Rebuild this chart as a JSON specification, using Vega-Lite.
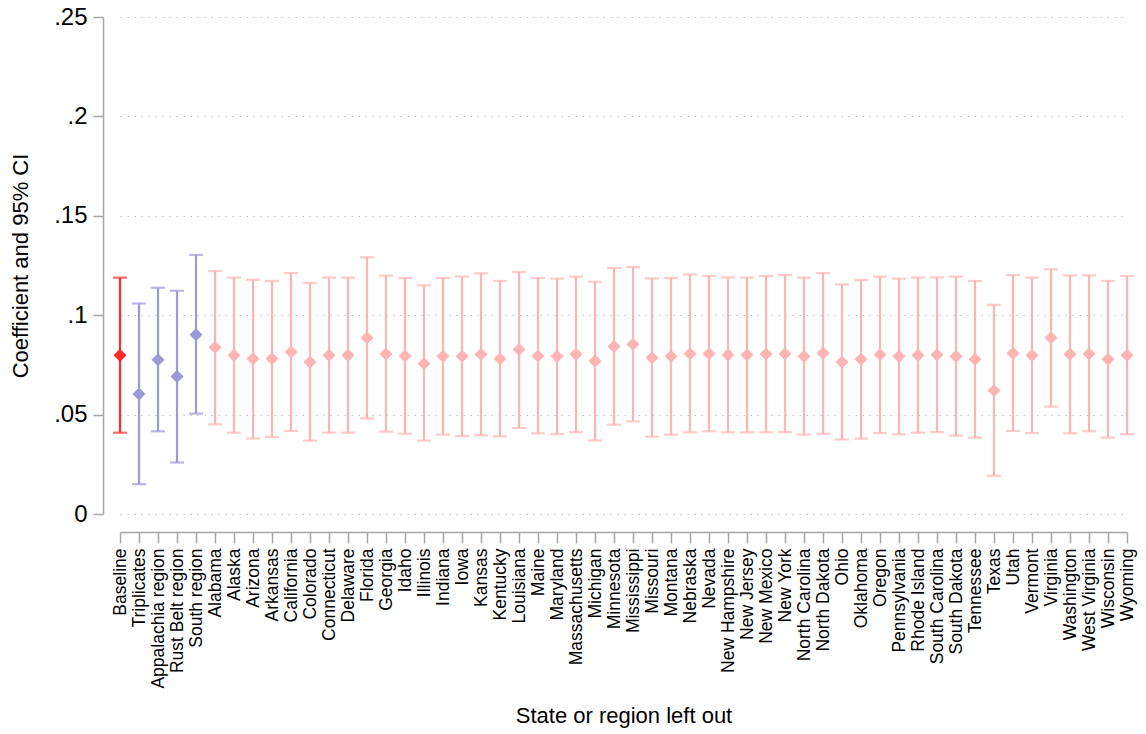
{
  "$schema": "https://vega.github.io/schema/vega-lite/v6.json",
  "width": 1007,
  "height": 497,
  "autosize": "none",
  "padding": {"left": 120, "top": 17, "right": 19, "bottom": 220},
  "background": "white",
  "config": {
    "font": "Liberation Sans",
    "view": {"stroke": null},
    "axis": {"labelFont": "Liberation Sans", "titleFont": "Liberation Sans", "labelColor": "black", "titleColor": "black", "titleFontWeight": "normal"}
  },
  "data": {
    "values": [
      {"k": "Baseline", "g": "base", "b": 0.0798, "lo": 0.0409, "hi": 0.1189},
      {"k": "Triplicates", "g": "region", "b": 0.0604, "lo": 0.0150, "hi": 0.1059},
      {"k": "Appalachia region", "g": "region", "b": 0.0776, "lo": 0.0416, "hi": 0.1138},
      {"k": "Rust Belt region", "g": "region", "b": 0.0692, "lo": 0.0259, "hi": 0.1123},
      {"k": "South region", "g": "region", "b": 0.0902, "lo": 0.0505, "hi": 0.1303},
      {"k": "Alabama", "g": "state", "b": 0.0837, "lo": 0.0451, "hi": 0.1222},
      {"k": "Alaska", "g": "state", "b": 0.0798, "lo": 0.0409, "hi": 0.1189},
      {"k": "Arizona", "g": "state", "b": 0.0781, "lo": 0.0380, "hi": 0.1178},
      {"k": "Arkansas", "g": "state", "b": 0.0781, "lo": 0.0387, "hi": 0.1172},
      {"k": "California", "g": "state", "b": 0.0815, "lo": 0.0418, "hi": 0.1212},
      {"k": "Colorado", "g": "state", "b": 0.0764, "lo": 0.0369, "hi": 0.1162},
      {"k": "Connecticut", "g": "state", "b": 0.0798, "lo": 0.0409, "hi": 0.1189},
      {"k": "Delaware", "g": "state", "b": 0.0798, "lo": 0.0409, "hi": 0.1189},
      {"k": "Florida", "g": "state", "b": 0.0886, "lo": 0.0481, "hi": 0.1291},
      {"k": "Georgia", "g": "state", "b": 0.0805, "lo": 0.0414, "hi": 0.1199},
      {"k": "Idaho", "g": "state", "b": 0.0795, "lo": 0.0404, "hi": 0.1187},
      {"k": "Illinois", "g": "state", "b": 0.0756, "lo": 0.0369, "hi": 0.1150},
      {"k": "Indiana", "g": "state", "b": 0.0793, "lo": 0.0399, "hi": 0.1187},
      {"k": "Iowa", "g": "state", "b": 0.0793, "lo": 0.0392, "hi": 0.1195},
      {"k": "Kansas", "g": "state", "b": 0.0803, "lo": 0.0396, "hi": 0.1210},
      {"k": "Kentucky", "g": "state", "b": 0.0781, "lo": 0.0391, "hi": 0.1172},
      {"k": "Louisiana", "g": "state", "b": 0.0827, "lo": 0.0433, "hi": 0.1217},
      {"k": "Maine", "g": "state", "b": 0.0795, "lo": 0.0406, "hi": 0.1187},
      {"k": "Maryland", "g": "state", "b": 0.0793, "lo": 0.0402, "hi": 0.1184},
      {"k": "Massachusetts", "g": "state", "b": 0.0803, "lo": 0.0412, "hi": 0.1194},
      {"k": "Michigan", "g": "state", "b": 0.0769, "lo": 0.0370, "hi": 0.1168},
      {"k": "Minnesota", "g": "state", "b": 0.0843, "lo": 0.0449, "hi": 0.1237},
      {"k": "Mississippi", "g": "state", "b": 0.0854, "lo": 0.0466, "hi": 0.1242},
      {"k": "Missouri", "g": "state", "b": 0.0786, "lo": 0.0389, "hi": 0.1185},
      {"k": "Montana", "g": "state", "b": 0.0793, "lo": 0.0399, "hi": 0.1187},
      {"k": "Nebraska", "g": "state", "b": 0.0806, "lo": 0.0411, "hi": 0.1205},
      {"k": "Nevada", "g": "state", "b": 0.0806, "lo": 0.0416, "hi": 0.1197},
      {"k": "New Hampshire", "g": "state", "b": 0.0800, "lo": 0.0411, "hi": 0.1190},
      {"k": "New Jersey", "g": "state", "b": 0.0800, "lo": 0.0411, "hi": 0.1189},
      {"k": "New Mexico", "g": "state", "b": 0.0805, "lo": 0.0411, "hi": 0.1197},
      {"k": "New York", "g": "state", "b": 0.0806, "lo": 0.0412, "hi": 0.1202},
      {"k": "North Carolina", "g": "state", "b": 0.0793, "lo": 0.0399, "hi": 0.1189},
      {"k": "North Dakota", "g": "state", "b": 0.0808, "lo": 0.0404, "hi": 0.1212},
      {"k": "Ohio", "g": "state", "b": 0.0764, "lo": 0.0375, "hi": 0.1155},
      {"k": "Oklahoma", "g": "state", "b": 0.0778, "lo": 0.0379, "hi": 0.1177},
      {"k": "Oregon", "g": "state", "b": 0.0801, "lo": 0.0407, "hi": 0.1194},
      {"k": "Pennsylvania", "g": "state", "b": 0.0793, "lo": 0.0401, "hi": 0.1184},
      {"k": "Rhode Island", "g": "state", "b": 0.0798, "lo": 0.0409, "hi": 0.1189},
      {"k": "South Carolina", "g": "state", "b": 0.0801, "lo": 0.0412, "hi": 0.1190},
      {"k": "South Dakota", "g": "state", "b": 0.0793, "lo": 0.0394, "hi": 0.1194},
      {"k": "Tennessee", "g": "state", "b": 0.0778, "lo": 0.0384, "hi": 0.1172},
      {"k": "Texas", "g": "state", "b": 0.0621, "lo": 0.0192, "hi": 0.1052},
      {"k": "Utah", "g": "state", "b": 0.0808, "lo": 0.0418, "hi": 0.1202},
      {"k": "Vermont", "g": "state", "b": 0.0798, "lo": 0.0407, "hi": 0.1189},
      {"k": "Virginia", "g": "state", "b": 0.0886, "lo": 0.0540, "hi": 0.1231},
      {"k": "Washington", "g": "state", "b": 0.0803, "lo": 0.0406, "hi": 0.1200},
      {"k": "West Virginia", "g": "state", "b": 0.0806, "lo": 0.0416, "hi": 0.1200},
      {"k": "Wisconsin", "g": "state", "b": 0.0778, "lo": 0.0384, "hi": 0.1172},
      {"k": "Wyoming", "g": "state", "b": 0.0798, "lo": 0.0401, "hi": 0.1197}
    ]
  },
  "encoding": {
    "x": {
      "field": "k", "type": "nominal", "sort": null,
      "scale": {"type": "point", "padding": 0},
      "axis": {
        "title": "State or region left out", "titleFontSize": 22, "titlePadding": 17,
        "labelAngle": -90, "labelAlign": "right", "labelBaseline": "middle",
        "labelFontSize": 17.5, "labelPadding": 5, "labelOverlap": false,
        "offset": 18, "tickSize": 11, "tickColor": "#a6a6a6", "domainColor": "#a6a6a6",
        "tickWidth": 1.5, "domainWidth": 1.5, "grid": false
      }
    },
    "color": {
      "field": "g", "type": "nominal", "legend": null,
      "scale": {"domain": ["base", "region", "state"], "range": ["#ff2b2b", "#9c99d9", "#ffb4b4"]}
    }
  },
  "layer": [
    {
      "mark": {"type": "rule", "strokeWidth": 2.2},
      "encoding": {
        "y": {
          "field": "lo", "type": "quantitative",
          "scale": {"domain": [0, 0.25], "nice": false, "zero": false},
          "axis": {
            "title": "Coefficient and 95% CI", "titleFontSize": 22, "titlePadding": 21,
            "values": [0, 0.05, 0.1, 0.15, 0.2, 0.25],
            "labelExpr": "datum.value == 0 ? '0' : replace(format(datum.value, '.2~f'), '0.', '.')",
            "labelFontSize": 24, "labelPadding": 6,
            "offset": 17, "tickSize": 10, "tickColor": "#a6a6a6", "domainColor": "#a6a6a6",
            "tickWidth": 1.5, "domainWidth": 1.5,
            "grid": true, "gridColor": "#c4c4c4", "gridDash": [1.5, 5.5], "gridWidth": 1.2
          }
        },
        "y2": {"field": "hi"}
      }
    },
    {
      "mark": {"type": "tick", "orient": "horizontal", "size": 14, "thickness": 2.2},
      "encoding": {"y": {"field": "lo", "type": "quantitative"}}
    },
    {
      "mark": {"type": "tick", "orient": "horizontal", "size": 14, "thickness": 2.2},
      "encoding": {"y": {"field": "hi", "type": "quantitative"}}
    },
    {
      "mark": {"type": "point", "shape": "diamond", "filled": true, "opacity": 1, "size": 170},
      "encoding": {"y": {"field": "b", "type": "quantitative"}}
    }
  ]
}
